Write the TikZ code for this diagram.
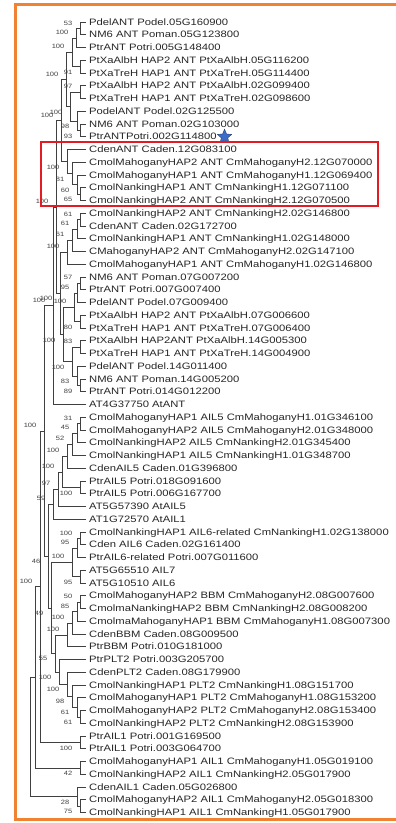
\documentclass[tikz,border=0pt]{standalone}
\usepackage{fontspec}
\setmainfont{Liberation Sans}[FakeStretch=1.21]
\usetikzlibrary{calc,positioning,shapes.geometric}
\definecolor{FrameOrange}{HTML}{F08232}
\definecolor{BoxRed}{HTML}{E31B23}
\definecolor{StarBlue}{HTML}{3D6BC8}
% internal node: name, x, first child, last child, bootstrap, u/l (label above/below)
\newcommand\clade[6]{%
  \path let \p1=($(#3)!.5!(#4)$) in coordinate (#1) at (#2pt,\y1);
  \node[bs#6] (#1-bs) at (#1) {#5};
  \foreach \c in {#3,#4} \draw[br] (#1) |- (\c);
}
\begin{document}
\begin{tikzpicture}[x=1pt,y=-1pt,
    br/.style={draw=black!75, line width=0.6pt},
    leaf/.style={anchor=west, inner sep=0pt, text height=7pt, text depth=1pt,
                 font=\fontsize{9.3}{10}\selectfont, text=black!85},
    bs/.style={anchor=east, inner sep=0pt, xshift=-7.5pt,
               font=\fontsize{6.2}{7}\selectfont, text=black!75},
    bsu/.style={bs, yshift=5.5pt},
    bsl/.style={bs, yshift=-5.5pt},
  ]
    \useasboundingbox (0,0) rectangle (396,823);
    % frame
    \draw[FrameOrange, line width=3pt] (396,4.5) -- (15.5,4.5) -- (15.5,819) -- (396,819);
    % leaves
    \foreach \i/\t in {
      1/{PdelANT Podel.05G160900},
      2/{NM6 ANT Poman.05G123800},
      3/{PtrANT Potri.005G148400},
      4/{PtXaAlbH HAP2 ANT PtXaAlbH.05G116200},
      5/{PtXaTreH HAP1 ANT PtXaTreH.05G114400},
      6/{PtXaAlbH HAP2 ANT PtXaAlbH.02G099400},
      7/{PtXaTreH HAP1 ANT PtXaTreH.02G098600},
      8/{PodelANT Podel.02G125500},
      9/{NM6 ANT Poman.02G103000},
      10/{PtrANTPotri.002G114800},
      11/{CdenANT Caden.12G083100},
      12/{CmolMahoganyHAP2 ANT CmMahoganyH2.12G070000},
      13/{CmolMahoganyHAP1 ANT CmMahoganyH1.12G069400},
      14/{CmolNankingHAP1 ANT CmNankingH1.12G071100},
      15/{CmolNankingHAP2 ANT CmNankingH2.12G070500},
      16/{CmolNankingHAP2 ANT CmNankingH2.02G146800},
      17/{CdenANT Caden.02G172700},
      18/{CmolNankingHAP1 ANT CmNankingH1.02G148000},
      19/{CMahoganyHAP2 ANT CmMahoganyH2.02G147100},
      20/{CmolMahoganyHAP1 ANT CmMahoganyH1.02G146800},
      21/{NM6 ANT Poman.07G007200},
      22/{PtrANT Potri.007G007400},
      23/{PdelANT Podel.07G009400},
      24/{PtXaAlbH HAP2 ANT PtXaAlbH.07G006600},
      25/{PtXaTreH HAP1 ANT PtXaTreH.07G006400},
      26/{PtXaAlbH HAP2ANT PtXaAlbH.14G005300},
      27/{PtXaTreH HAP1 ANT PtXaTreH.14G004900},
      28/{PdelANT Podel.14G011400},
      29/{NM6 ANT Poman.14G005200},
      30/{PtrANT Potri.014G012200},
      31/{AT4G37750 AtANT},
      32/{CmolMahoganyHAP1 AIL5 CmMahoganyH1.01G346100},
      33/{CmolMahoganyHAP2 AIL5 CmMahoganyH2.01G348000},
      34/{CmolNankingHAP2 AIL5 CmNankingH2.01G345400},
      35/{CmolNankingHAP1 AIL5 CmNankingH1.01G348700},
      36/{CdenAIL5 Caden.01G396800},
      37/{PtrAIL5 Potri.018G091600},
      38/{PtrAIL5 Potri.006G167700},
      39/{AT5G57390 AtAIL5},
      40/{AT1G72570 AtAIL1},
      41/{CmolNankingHAP1 AIL6-related CmNankingH1.02G138000},
      42/{Cden AIL6 Caden.02G161400},
      43/{PtrAIL6-related Potri.007G011600},
      44/{AT5G65510 AIL7},
      45/{AT5G10510 AIL6},
      46/{CmolMahoganyHAP2 BBM CmMahoganyH2.08G007600},
      47/{CmolmaNankingHAP2 BBM CmNankingH2.08G008200},
      48/{CmolmaMahoganyHAP1 BBM CmMahoganyH1.08G007300},
      49/{CdenBBM Caden.08G009500},
      50/{PtrBBM Potri.010G181000},
      51/{PtrPLT2 Potri.003G205700},
      52/{CdenPLT2 Caden.08G179900},
      53/{CmolNankingHAP1 PLT2 CmNankingH1.08G151700},
      54/{CmolMahoganyHAP1 PLT2 CmMahoganyH1.08G153200},
      55/{CmolMahoganyHAP2 PLT2 CmMahoganyH2.08G153400},
      56/{CmolNankingHAP2 PLT2 CmNankingH2.08G153900},
      57/{PtrAIL1 Potri.001G169500},
      58/{PtrAIL1 Potri.003G064700},
      59/{CmolMahoganyHAP1 AIL1 CmMahoganyH1.05G019100},
      60/{CmolNankingHAP2 AIL1 CmNankingH2.05G017900},
      61/{CdenAIL1 Caden.05G026800},
      62/{CmolMahoganyHAP2 AIL1 CmMahoganyH2.05G018300},
      63/{CmolNankingHAP1 AIL1 CmNankingH1.05G017900}}{
      \coordinate (t\i) at (86,{22+12.75*(\i-1)});
      \node[leaf] (l\i) at (89,{22+12.75*(\i-1)}) {\t};
    }
    \node[star, star points=5, star point ratio=2.2, fill=StarBlue, draw=StarBlue!60!black,
          line width=0.4pt, minimum size=15pt, inner sep=0pt, right=3pt of l10] (mark) {};
    % ANT clade
    \clade{n1}{80}{t1}{t2}{53}{u}
    \clade{n2}{76}{n1}{t3}{100}{u}
    \clade{n3}{80}{t4}{t5}{91}{l}
    \clade{n4}{72}{n2}{n3}{100}{u}
    \clade{n5}{80}{t6}{t7}{97}{u}
    \clade{n6}{80}{t9}{t10}{93}{l}
    \clade{n7}{77}{t8}{n6}{98}{l}
    \clade{n8}{70}{n5}{n7}{100}{l}
    \clade{n9}{66}{n4}{n8}{100}{u}
    \clade{n10}{80}{t14}{t15}{65}{l}
    \clade{n11}{77}{t13}{n10}{60}{l}
    \clade{n12}{72}{t12}{n11}{81}{l}
    \clade{n13}{67}{t11}{n12}{100}{l}
    \clade{n14}{61}{n9}{n13}{100}{u}
    \clade{n15}{80}{t16}{t17}{61}{u}
    \clade{n16}{77}{n15}{t18}{61}{u}
    \clade{n17}{72}{n16}{t19}{61}{u}
    \clade{n18}{67}{n17}{t20}{100}{u}
    \clade{n19}{80}{t21}{t22}{57}{u}
    \clade{n20}{77}{n19}{t23}{95}{u}
    \clade{n21}{80}{t24}{t25}{80}{l}
    \clade{v1}{74}{n20}{n21}{100}{u}
    \clade{n23}{80}{t26}{t27}{83}{u}
    \clade{n24}{80}{t29}{t30}{89}{l}
    \clade{n25}{77}{t28}{n24}{83}{l}
    \clade{n26}{72}{n23}{n25}{100}{l}
    \clade{w1}{63}{v1}{n26}{100}{l}
    \clade{z1}{60}{n18}{w1}{100}{l}
    \clade{m2}{56}{n14}{z1}{100}{u}
    \clade{ant}{53}{m2}{t31}{100}{u}
    % AIL5 clade
    \clade{a1}{80}{t32}{t33}{31}{u}
    \clade{a2}{77}{a1}{t34}{45}{u}
    \clade{a3}{72}{a2}{t35}{52}{u}
    \clade{a4}{67}{a3}{t36}{100}{u}
    \clade{a5}{80}{t37}{t38}{100}{l}
    \clade{a6}{62}{a4}{a5}{100}{u}
    \clade{a7}{58}{a6}{t39}{97}{u}
    \clade{a8}{53}{a7}{t40}{59}{u}
    % AIL6 / BBM / PLT2 clade
    \clade{b1}{80}{t41}{t42}{100}{u}
    \clade{b2}{77}{b1}{t43}{95}{u}
    \clade{b3}{80}{t44}{t45}{95}{l}
    \clade{b4}{72}{b2}{b3}{100}{u}
    \clade{b5}{80}{t46}{t47}{50}{u}
    \clade{b6}{77}{b5}{t48}{85}{u}
    \clade{b7}{72}{b6}{t49}{100}{u}
    \clade{b8}{67}{b7}{t50}{100}{u}
    \clade{c1}{80}{t55}{t56}{61}{l}
    \clade{c2}{77}{t54}{c1}{61}{l}
    \clade{c3}{72}{t53}{c2}{98}{l}
    \clade{c4}{67}{t52}{c3}{100}{l}
    \clade{c5}{59}{t51}{c4}{100}{l}
    \clade{b9}{55}{b8}{c5}{55}{l}
    \clade{bb}{51}{b4}{b9}{49}{l}
    \clade{cc}{48}{a8}{bb}{46}{l}
    % AIL1 clade
    \clade{d1}{80}{t57}{t58}{100}{l}
    \clade{d2}{80}{t59}{t60}{42}{l}
    \clade{d3}{80}{t62}{t63}{75}{l}
    \clade{d4}{77}{t61}{d3}{28}{l}
    % backbone
    \clade{dd}{44}{ant}{cc}{100}{u}
    \clade{ee}{40}{dd}{d1}{100}{u}
    \clade{ff}{35}{ee}{d2}{}{u}
    \clade{gg}{30}{ff}{d4}{}{u}
    % highlighted clade
    \draw[BoxRed, line width=2.5pt] (41,142) rectangle (378,206);
\end{tikzpicture}
\end{document}
